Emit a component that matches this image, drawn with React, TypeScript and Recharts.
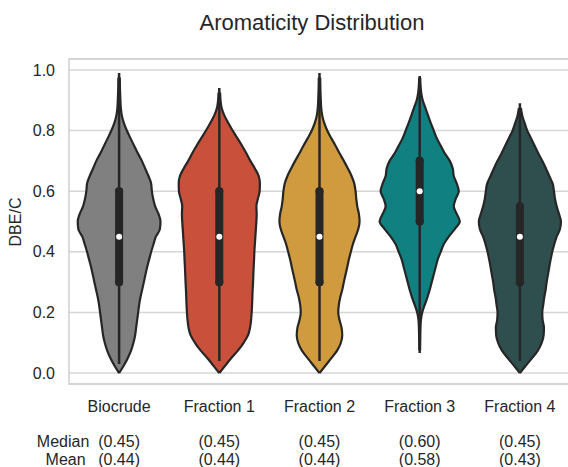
import {
  ComposedChart,
  Area,
  Scatter,
  ErrorBar,
  XAxis,
  YAxis,
  CartesianGrid,
  ReferenceArea,
} from "recharts";

const FONT = "'Liberation Sans', Arial, sans-serif";
const INK = "#262626";

const categories = ["Biocrude", "Fraction 1", "Fraction 2", "Fraction 3", "Fraction 4"];
const colors = ["#808080", "#c9503a", "#cf9b3e", "#108080", "#2f4f4f"];

// DBE/C levels at which the violin half-widths were read
const levels = [
  0, 0.025, 0.05, 0.075, 0.1, 0.125, 0.15, 0.175, 0.2, 0.225, 0.25, 0.275, 0.3, 0.325,
  0.35, 0.375, 0.4, 0.425, 0.45, 0.475, 0.5, 0.525, 0.55, 0.575, 0.6, 0.625, 0.65,
  0.675, 0.7, 0.725, 0.75, 0.775, 0.8, 0.825, 0.85, 0.875, 0.9, 0.925, 0.95, 0.975, 1,
];

// half-width of each violin (in category units) at every level, null = outside the violin
const biocrudeWidth = [
  0, 0.047, 0.087, 0.12, 0.143, 0.16, 0.17, 0.18, 0.19, 0.2, 0.213, 0.23, 0.247, 0.263,
  0.28, 0.3, 0.32, 0.343, 0.367, 0.407, 0.413, 0.393, 0.36, 0.34, 0.327, 0.32, 0.293,
  0.26, 0.227, 0.187, 0.15, 0.113, 0.077, 0.047, 0.027, 0.017, 0.013, 0.01, 0.008, 0.007, null,
];
const fraction1Width = [
  0, 0.06, 0.12, 0.187, 0.243, 0.287, 0.307, 0.317, 0.323, 0.327, 0.33, 0.333, 0.337, 0.34,
  0.343, 0.347, 0.35, 0.355, 0.36, 0.365, 0.37, 0.373, 0.37, 0.385, 0.403, 0.405, 0.393,
  0.355, 0.31, 0.27, 0.227, 0.18, 0.133, 0.09, 0.05, 0.023, 0.012, 0.008, null, null, null,
];
const fraction2Width = [
  0, 0.06, 0.12, 0.177, 0.213, 0.227, 0.22, 0.2, 0.187, 0.193, 0.207, 0.227, 0.243, 0.26,
  0.277, 0.293, 0.313, 0.333, 0.36, 0.387, 0.4, 0.393, 0.377, 0.367, 0.36, 0.347, 0.32,
  0.283, 0.243, 0.2, 0.16, 0.117, 0.077, 0.047, 0.027, 0.017, 0.013, 0.01, 0.008, 0.007, null,
];
const fraction3Width = [
  null, null, null, 0.004, 0.005, 0.006, 0.008, 0.012, 0.025, 0.05, 0.077, 0.1, 0.12, 0.14,
  0.16, 0.18, 0.21, 0.24, 0.29, 0.35, 0.4, 0.37, 0.34, 0.36, 0.39, 0.37, 0.34,
  0.33, 0.3, 0.25, 0.21, 0.17, 0.14, 0.11, 0.083, 0.057, 0.03, 0.015, 0.008, 0.005, null,
];
const fraction4Width = [
  0, 0.06, 0.123, 0.18, 0.217, 0.237, 0.24, 0.227, 0.223, 0.233, 0.243, 0.257, 0.267, 0.28,
  0.293, 0.307, 0.323, 0.343, 0.367, 0.4, 0.41, 0.39, 0.367, 0.35, 0.34, 0.327, 0.293,
  0.26, 0.223, 0.183, 0.147, 0.11, 0.073, 0.047, 0.023, 0.01, null, null, null, null, null,
];
const widths = [biocrudeWidth, fraction1Width, fraction2Width, fraction3Width, fraction4Width];

const q1 = [0.3, 0.3, 0.3, 0.5, 0.3];
const q3 = [0.6, 0.6, 0.6, 0.7, 0.55];
const medians = [0.45, 0.45, 0.45, 0.6, 0.45];
const means = [0.44, 0.44, 0.44, 0.58, 0.43];
const whiskerLow = [0.03, 0.04, 0.04, 0.066, 0.04];
const whiskerHigh = [0.99, 0.94, 0.99, 0.98, 0.89];

const yTicks = [0, 0.2, 0.4, 0.6, 0.8, 1.0];
const xTicks = [0, 1, 2, 3, 4];

// each violin gets its own rows, only where it has a width
const violinRows = widths.map((w, i) =>
  levels
    .map((v, k) => ({ v, range: w[k] == null ? null : [i - (w[k] as number), i + (w[k] as number)] }))
    .filter((r) => r.range !== null)
);

// one point per violin at its median, error bars give whisker and IQR box
const boxRows = categories.map((_, i) => ({
  x: i,
  v: medians[i],
  whisker: [medians[i] - whiskerLow[i], whiskerHigh[i] - medians[i]],
  box: [medians[i] - q1[i], q3[i] - medians[i]],
}));

function CategoryTick(props: any) {
  const { x, y, payload } = props;
  const i = payload.value as number;
  const style = { fontFamily: FONT, fontSize: 16, fill: INK };
  return (
    <g>
      <text x={x} y={y + 28} textAnchor="middle" style={style}>
        {categories[i]}
      </text>
      <text x={x} y={y + 63} textAnchor="middle" style={style}>
        ({medians[i].toFixed(2)})
      </text>
      <text x={x} y={y + 81} textAnchor="middle" style={style}>
        ({means[i].toFixed(2)})
      </text>
      {i === 0 && (
        <>
          <text x={x - 56} y={y + 63} textAnchor="middle" style={style}>
            Median
          </text>
          <text x={x - 53.5} y={y + 81} textAnchor="middle" style={style}>
            Mean
          </text>
        </>
      )}
    </g>
  );
}

const MedianDot = (p: any) => <circle cx={p.cx} cy={p.cy} r={3} fill="#ffffff" />;

export default function App() {
  return (
    <div
      style={{
        position: "fixed",
        left: 0,
        top: 0,
        width: 568,
        height: 467,
        overflow: "hidden",
        background: "#fff",
        fontFamily: FONT,
        color: INK,
      }}
    >
      <div
        style={{
          position: "absolute",
          left: 0,
          width: 624,
          top: 12,
          textAlign: "center",
          fontSize: 22,
          lineHeight: "22px",
          whiteSpace: "nowrap",
        }}
      >
        Aromaticity Distribution
      </div>
      <div
        style={{
          position: "absolute",
          left: 15.5,
          top: 222,
          transform: "translate(-50%, -50%) rotate(-90deg)",
          fontSize: 16,
          lineHeight: "16px",
          whiteSpace: "nowrap",
        }}
      >
        DBE/C
      </div>
      <ComposedChart
        width={580}
        height={467}
        layout="vertical"
        margin={{ top: 59, right: 10, bottom: 0, left: 0 }}
      >
        <CartesianGrid vertical={false} stroke="#d6d6d6" strokeWidth={1.5} />
        <ReferenceArea
          x1={-0.5}
          x2={4.5}
          y1={-0.036}
          y2={1.036}
          fill="none"
          stroke="#cfcfcf"
          strokeWidth={1.5}
          ifOverflow="visible"
        />
        <XAxis
          type="number"
          domain={[-0.5, 4.5]}
          allowDataOverflow
          ticks={xTicks}
          interval={0}
          height={83}
          axisLine={false}
          tickLine={false}
          tickSize={0}
          tickMargin={0}
          tick={(p: any) => <CategoryTick {...p} />}
        />
        <YAxis
          type="number"
          dataKey="v"
          reversed
          domain={[-0.036, 1.036]}
          allowDataOverflow
          ticks={yTicks}
          interval={0}
          width={69}
          axisLine={false}
          tickLine={false}
          tickSize={0}
          tickMargin={14}
          tickFormatter={(t: number) => t.toFixed(1)}
          tick={{ fontSize: 16, fill: INK, fontFamily: FONT }}
        />
        {categories.map((c, i) => (
          <Area
            key={c}
            data={violinRows[i]}
            dataKey="range"
            type="monotone"
            fill={colors[i]}
            fillOpacity={1}
            stroke={INK}
            strokeWidth={2.2}
            isAnimationActive={false}
          />
        ))}
        <Scatter data={boxRows} dataKey="x" shape={MedianDot} isAnimationActive={false}>
          <ErrorBar
            dataKey="whisker"
            direction="y"
            width={0}
            stroke={INK}
            strokeWidth={2.5}
            isAnimationActive={false}
          />
          <ErrorBar
            dataKey="box"
            direction="y"
            width={0}
            stroke={INK}
            strokeWidth={8}
            strokeLinecap="round"
            isAnimationActive={false}
          />
        </Scatter>
      </ComposedChart>
    </div>
  );
}
